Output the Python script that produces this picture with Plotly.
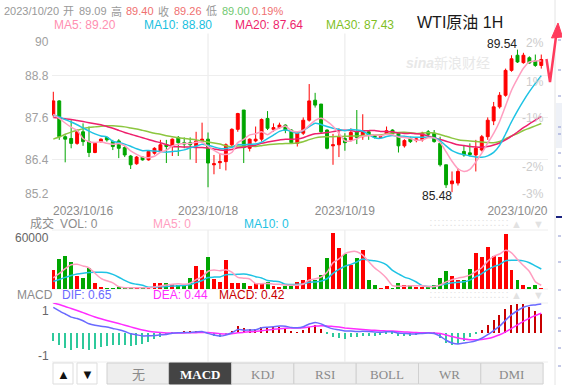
import numpy as np
import pandas as pd
import plotly.graph_objects as go

W, H = 562, 385
SANS = "Liberation Sans, Arial, Noto Sans CJK SC, sans-serif"
SERIF = "Liberation Serif, DejaVu Serif, Noto Sans CJK SC, serif"

# ---------------- data ----------------
opens = [87.68, 88.08, 87.06, 87.01, 86.87, 87.20, 86.92, 86.61, 86.92, 87.04,
         86.92, 86.94, 86.75, 86.51, 86.29, 86.48, 86.40, 86.59, 86.66, 86.83,
         86.78, 87.04, 86.89, 86.89, 86.80, 86.94, 86.99, 86.26, 86.32, 86.35,
         86.83, 87.27, 87.82, 86.73, 86.94, 86.99, 87.58, 87.27, 87.32, 87.39,
         87.25, 86.87, 87.16, 87.53, 88.10, 87.99, 87.25, 86.80, 86.83, 87.01,
         86.97, 87.20, 87.06, 87.20, 87.11, 87.04, 87.14, 87.25, 87.16, 86.80,
         87.01, 86.95, 86.97, 87.20, 87.16, 86.87, 86.26, 85.72, 85.74, 86.64,
         86.60, 86.54, 86.68, 87.06, 87.51, 87.91, 88.24, 88.95, 89.38, 89.17,
         89.31, 89.22, 89.09]
highs = [88.34, 88.10, 87.10, 87.53, 87.27, 87.44, 87.35, 86.89, 87.01, 87.06,
         86.97, 86.99, 86.80, 86.54, 86.51, 86.50, 86.66, 86.76, 86.97, 86.97,
         87.01, 87.08, 87.04, 87.04, 87.20, 87.46, 87.18, 86.54, 86.59, 86.87,
         87.30, 87.74, 87.82, 87.01, 87.35, 87.58, 87.79, 87.44, 87.46, 87.41,
         87.27, 87.20, 87.61, 88.56, 88.31, 87.99, 87.27, 87.14, 87.30, 87.16,
         87.30, 87.82, 87.70, 87.25, 87.13, 87.08, 87.35, 87.27, 87.18, 86.99,
         87.06, 87.04, 87.20, 87.25, 87.25, 87.06, 86.26, 86.07, 86.16, 86.82,
         86.87, 86.97, 87.11, 87.61, 88.05, 88.33, 89.00, 89.38, 89.54, 89.45,
         89.35, 89.40, 89.40]
lows = [87.63, 86.97, 86.33, 86.73, 86.83, 86.80, 86.48, 86.59, 86.89, 86.92,
        86.68, 86.45, 86.48, 86.14, 86.26, 86.38, 86.38, 86.55, 86.60, 86.31,
        86.51, 86.51, 86.73, 86.41, 86.31, 86.90, 85.62, 85.99, 86.14, 86.10,
        86.78, 87.20, 86.31, 86.64, 86.90, 86.92, 87.25, 87.20, 87.28, 87.16,
        86.87, 86.78, 87.11, 87.49, 87.89, 87.16, 86.70, 86.26, 86.48, 86.66,
        86.92, 86.85, 86.97, 86.97, 87.01, 87.02, 87.11, 87.12, 86.61, 86.75,
        86.88, 86.90, 86.92, 87.06, 86.89, 86.21, 85.60, 85.48, 85.67, 86.49,
        86.50, 86.07, 86.64, 86.97, 87.39, 87.86, 88.20, 88.91, 89.16, 89.14,
        89.14, 89.05, 89.00]
closes = [88.08, 87.06, 86.99, 86.87, 87.20, 86.92, 86.61, 86.87, 86.99, 86.97,
          86.78, 86.73, 86.54, 86.26, 86.48, 86.40, 86.64, 86.73, 86.83, 86.78,
          86.99, 86.89, 86.85, 86.83, 86.94, 86.99, 86.31, 86.29, 86.35, 86.83,
          87.27, 87.72, 86.75, 86.99, 86.99, 87.55, 87.30, 87.32, 87.39, 87.25,
          86.89, 87.16, 87.53, 88.08, 87.96, 87.20, 86.73, 86.83, 87.06, 86.89,
          87.18, 87.04, 87.20, 87.11, 87.04, 87.06, 87.23, 87.14, 86.80, 86.95,
          86.92, 87.00, 87.16, 87.13, 86.92, 86.26, 85.69, 85.80, 86.07, 86.54,
          86.55, 86.73, 87.06, 87.53, 87.91, 88.24, 88.95, 89.28, 89.19, 89.38,
          89.16, 89.09, 89.26]
volumes = [20000, 31000, 34500, 28300, 13800, 11400, 21700, 6200, 2000, 1000,
           1000, 2000, 1000, 1000, 1500, 1000, 1500, 6000, 6000, 6000,
           5000, 3800, 3800, 11400, 24100, 19600, 33000, 10300, 7200, 30000,
           6200, 6200, 6200, 2800, 6200, 6200, 7200, 2800, 1700, 2800,
           5000, 7200, 8900, 22700, 8900, 14100, 32000, 57900, 42400, 36200,
           24500, 32000, 40000, 8900, 3800, 500, 2800, 1000, 5900, 3800,
           3800, 1700, 1700, 1700, 3800, 11400, 18300, 13100, 9700, 9700,
           20700, 37200, 32800, 43800, 34500, 32800, 56900, 19300, 8900, 3800,
           2000, 3800, 1000]

# moving-average values visible at the left edge (history before the first bar)
ma5_lead = [87.70, 87.58, 87.45, 87.33]
ma10_lead = [87.68, 87.62, 87.55, 87.48, 87.40, 87.31, 87.22, 87.14, 87.08]
ma20_lead = [87.61, 87.59, 87.57, 87.55, 87.52, 87.49, 87.46, 87.43, 87.40, 87.35,
             87.30, 87.24, 87.18, 87.13, 87.08, 87.03, 86.98, 86.93, 86.89]
ma30_lead = [86.99, 87.05, 87.13, 87.19, 87.24, 87.29, 87.32, 87.34, 87.36, 87.37,
             87.37, 87.36, 87.34, 87.31, 87.28, 87.24, 87.20, 87.16, 87.13, 87.09,
             87.06, 87.03, 87.01, 86.99, 86.97, 86.94, 86.91, 86.88, 86.85]
vol_ma5_lead = [11400, 16000, 21000, 25000]
vol_ma10_lead = [7900, 9800, 12000, 14000, 15500, 16400, 17000, 17200, 17200]
macd_seed = {"ema12": 87.50, "ema26": 86.93, "dea": 0.67}

date_labels = ["2023/10/16", "2023/10/18", "2023/10/19", "2023/10/20"]
date_index = [5, 26, 49, 78]
grid_index = [26, 49]
price_ticks = [90, 88.8, 87.6, 86.4, 85.2]
price_tick_text = ["90", "88.8", "87.6", "86.4", "85.2"]
pct_tick_text = ["2%", "1%", "-1%", "-2%", "-3%"]
vol_tick_text = "60000"
macd_tick_text = ["1", "-1"]
tab_labels = ["无", "MACD", "KDJ", "RSI", "BOLL", "WR", "DMI"]
tab_selected = 1

header_quote = [("2023/10/20", "#999999"), ("开", "#999999"), ("89.09", "#999999"),
                ("高", "#999999"), ("89.40", "#f07070"), ("收", "#999999"),
                ("89.26", "#f07070"), ("低", "#999999"), ("89.00", "#70c870"),
                ("0.19%", "#f07070")]
header_quote_x = [2, 61, 77, 109, 124, 156, 172, 204, 220, 250]
ma_header = [("MA5: 89.20", "#ff8fb1"), ("MA10: 88.80", "#19bfe0"),
             ("MA20: 87.64", "#ee1f6c"), ("MA30: 87.43", "#7fbf1f")]
ma_header_x = [52, 142, 233, 324]
title_text = "WTI原油 1H"

# ---------------- derived series ----------------
n = len(closes)
idx = np.arange(n)


def ma_with_lead(values, win, lead):
    s = pd.Series(values, dtype=float).rolling(win).mean().to_numpy()
    s[:len(lead)] = lead
    return s


ma5 = ma_with_lead(closes, 5, ma5_lead)
ma10 = ma_with_lead(closes, 10, ma10_lead)
ma20 = ma_with_lead(closes, 20, ma20_lead)
ma30 = ma_with_lead(closes, 30, ma30_lead)
vma5 = ma_with_lead(volumes, 5, vol_ma5_lead)
vma10 = ma_with_lead(volumes, 10, vol_ma10_lead)

c = np.array(closes, dtype=float)
e12 = np.empty(n); e26 = np.empty(n); dea = np.empty(n)
e12[0] = macd_seed["ema12"]; e26[0] = macd_seed["ema26"]
for t in range(1, n):
    e12[t] = e12[t - 1] + 2 / 13 * (c[t] - e12[t - 1])
    e26[t] = e26[t - 1] + 2 / 27 * (c[t] - e26[t - 1])
dif = e12 - e26
dea[0] = macd_seed["dea"]
for t in range(1, n):
    dea[t] = dea[t - 1] + 0.2 * (dif[t] - dea[t - 1])
hist = 2 * (dif - dea)

RED, GREEN = "#ff0000", "#00a600"
up = [cl >= op for op, cl in zip(opens, closes)]
vol_colors = [RED if u else GREEN for u in up]
hist_colors = ["#c80000" if h >= 0 else "#2ec99b" for h in hist]

# ---------------- geometry ----------------
X0, X1 = 52, 548
X_FIRST, STEP = 53.3, 5.951
xr = [(X0 - X_FIRST) / STEP, (X1 - X_FIRST) / STEP]


def py(v):
    return 1 - v / H


def px(v):
    return v / W


fig = go.Figure()
fig.add_trace(go.Candlestick(
    x=idx, open=opens, high=highs, low=lows, close=closes,
    increasing=dict(line=dict(color=RED, width=1), fillcolor=RED),
    decreasing=dict(line=dict(color=GREEN, width=1), fillcolor=GREEN),
    whiskerwidth=0, xaxis="x", yaxis="y", hoverinfo="skip"))
for s, col in [(ma30, "#8cc63f"), (ma20, "#ee1f6c"), (ma10, "#1ec3e4"), (ma5, "#ff9ec0")]:
    fig.add_trace(go.Scatter(x=idx, y=s, mode="lines", xaxis="x", yaxis="y",
                             line=dict(color=col, width=1.5, shape="spline", smoothing=0.6),
                             hoverinfo="skip"))

fig.add_trace(go.Bar(x=idx, y=volumes, marker=dict(color=vol_colors, line=dict(width=0)),
                     width=0.66, xaxis="x2", yaxis="y2", hoverinfo="skip"))
for s, col in [(vma10, "#1ec3e4"), (vma5, "#ff9ec0")]:
    fig.add_trace(go.Scatter(x=idx, y=s, mode="lines", xaxis="x2", yaxis="y2",
                             line=dict(color=col, width=1.5, shape="spline", smoothing=0.6),
                             hoverinfo="skip"))

fig.add_trace(go.Bar(x=idx, y=hist, marker=dict(color=hist_colors, line=dict(width=0)),
                     width=0.22, xaxis="x3", yaxis="y3", hoverinfo="skip"))
fig.add_trace(go.Scatter(x=idx, y=dea, mode="lines", xaxis="x3", yaxis="y3",
                         line=dict(color="#ff2cff", width=1.5, shape="spline", smoothing=0.6), hoverinfo="skip"))
fig.add_trace(go.Scatter(x=idx, y=dif, mode="lines", xaxis="x3", yaxis="y3",
                         line=dict(color="#6a6aff", width=1.5, shape="spline", smoothing=0.6), hoverinfo="skip"))

ax_common = dict(range=xr, domain=[px(X0), px(X1)], showgrid=False, zeroline=False,
                 showline=False, fixedrange=True)
fig.update_layout(
    width=W, height=H, margin=dict(l=0, r=0, t=0, b=0),
    paper_bgcolor="white", plot_bgcolor="white", showlegend=False, bargap=0,
    xaxis=dict(**ax_common, anchor="y", tickvals=date_index, ticktext=date_labels,
               ticks="", tickfont=dict(size=12, color="#8c8c8c", family=SANS),
               rangeslider=dict(visible=False)),
    yaxis=dict(domain=[py(202), py(33.5)], range=[85.2, 90], tickvals=price_ticks,
               showticklabels=False, showgrid=True, gridcolor="#eeeeee", gridwidth=1,
               zeroline=False, fixedrange=True),
    xaxis2=dict(**ax_common, anchor="y2", matches="x", showticklabels=False),
    yaxis2=dict(domain=[py(289), py(230)], range=[0, 61000], showticklabels=False,
                showgrid=False, zeroline=False, fixedrange=True),
    xaxis3=dict(**ax_common, anchor="y3", matches="x", showticklabels=False),
    yaxis3=dict(domain=[py(362), py(303)], range=[-0.67, 0.67], showticklabels=False,
                showgrid=False, zeroline=False, fixedrange=True),
)

shapes = []
for gi in grid_index:
    for yr in ["y domain", "y2 domain", "y3 domain"]:
        shapes.append(dict(type="line", xref="x", yref=yr, x0=gi, x1=gi, y0=0, y1=1,
                           line=dict(color="#e8e8e8", width=1), layer="below"))
for yy in [230, 289, 303, 362]:
    shapes.append(dict(type="line", xref="paper", yref="paper", x0=px(X0), x1=px(X1),
                       y0=py(yy), y1=py(yy), line=dict(color="#eeeeee", width=1), layer="below"))
# right side strip
shapes.append(dict(type="line", xref="paper", yref="paper", x0=px(555), x1=px(555), y0=0, y1=1,
                   line=dict(color="#e4e4e4", width=1)))
shapes.append(dict(type="rect", xref="paper", yref="paper", x0=px(556), x1=1, y0=py(148), y1=py(103),
                   fillcolor="#eef1f7", line=dict(width=0)))
shapes.append(dict(type="line", xref="paper", yref="paper", x0=px(556), x1=1, y0=py(217), y1=py(217),
                   line=dict(color="#1a2380", width=2)))
for yy in [40, 70, 96, 127, 134, 153, 166, 178, 236, 262, 290, 318, 331, 348, 366]:
    shapes.append(dict(type="line", xref="paper", yref="paper", x0=px(558), x1=px(561),
                       y0=py(yy), y1=py(yy), line=dict(color="#8a93cf", width=1)))
# red arrow
pts = [(546.5, 59), (550, 82), (556.5, 33)]
path = "M " + " L ".join(f"{px(a):.5f} {py(b):.5f}" for a, b in pts)
shapes.append(dict(type="path", xref="paper", yref="paper", path=path,
                   line=dict(color="#ff3b5c", width=2.5)))
head = [(558, 23), (551.5, 38), (562.5, 37)]
hpath = "M " + " L ".join(f"{px(a):.5f} {py(b):.5f}" for a, b in head) + " Z"
shapes.append(dict(type="path", xref="paper", yref="paper", path=hpath,
                   fillcolor="#ff3b5c", line=dict(color="#ff3b5c", width=1)))
# buttons
for x0b in [53, 77]:
    shapes.append(dict(type="rect", xref="paper", yref="paper", x0=px(x0b), x1=px(x0b + 20),
                       y0=py(384), y1=py(363), fillcolor="white", line=dict(color="#dddddd", width=1)))
TAB_X0, TAB_W = 107, 62.3
for k in range(len(tab_labels)):
    sel = k == tab_selected
    shapes.append(dict(type="rect", xref="paper", yref="paper",
                       x0=px(TAB_X0 + k * TAB_W), x1=px(TAB_X0 + (k + 1) * TAB_W),
                       y0=py(384), y1=py(363),
                       fillcolor="#444444" if sel else "#eeeeee",
                       line=dict(color="#444444" if sel else "#d0d0d0", width=1)))
fig.update_layout(shapes=shapes)


def ann(text, x, y, size=12, color="#999999", xanchor="left", yanchor="middle", family=SANS, **kw):
    return dict(text=text, x=px(x), y=py(y), xref="paper", yref="paper", showarrow=False,
                font=dict(size=size, color=color, family=family), xanchor=xanchor,
                yanchor=yanchor, **kw)


anns = []
for (t, col), xx in zip(header_quote, header_quote_x):
    anns.append(ann(t, xx, 11, size=11, color=col))
for (t, col), xx in zip(ma_header, ma_header_x):
    anns.append(ann(t, xx, 25, size=12, color=col))
anns.append(ann(title_text, 415, 22, size=16, color="#1a1a1a"))
anns.append(ann("<i><b>sina</b></i>新浪财经", 448, 63, size=14, color="#e8e8e8", xanchor="center"))

# left price labels follow the gridlines; right percent labels sit at their own heights
nt = len(price_ticks)
pct_label_y = [43, 82, 118, 167, 194]
for k, (p, t) in enumerate(zip(price_ticks, price_tick_text)):
    shift = -8.5 if k == 0 else (8 if k == nt - 1 else 0)
    anns.append(dict(text=t, x=px(51), y=p, xref="paper", yref="y", showarrow=False, yshift=shift,
                     xanchor="right", font=dict(size=12, color="#a0a0a0", family=SANS)))
for t, yy in zip(pct_tick_text, pct_label_y):
    anns.append(ann(t, 546, yy, size=12, color="#cccccc", xanchor="right"))

i_hi = int(np.argmax(highs)); i_lo = int(np.argmin(lows))
anns.append(dict(text=f"{highs[i_hi]:.2f}", x=i_hi, y=highs[i_hi], xref="x", yref="y",
                 showarrow=False, xanchor="right", yanchor="bottom", xshift=2, yshift=-3,
                 font=dict(size=12, color="#222222", family=SANS)))
anns.append(dict(text=f"{lows[i_lo]:.2f}", x=i_lo, y=lows[i_lo], xref="x", yref="y",
                 showarrow=False, xanchor="right", yanchor="top", xshift=2, yshift=5,
                 font=dict(size=12, color="#222222", family=SANS)))

# volume panel texts
VOL_ROW = 223.5
anns.append(ann("成交", 28, VOL_ROW, color="#8c8c8c"))
anns.append(ann("VOL: 0", 58, VOL_ROW, color="#8c8c8c"))
anns.append(ann("MA5: 0", 151, VOL_ROW, color="#ff9ec0"))
anns.append(ann("MA10: 0", 242, VOL_ROW, color="#1ec3e4"))
anns.append(ann(vol_tick_text, 51, 237.5, color="#666666", xanchor="right"))
# macd panel texts
anns.append(ann("MACD", 15, 295, color="#8c8c8c"))
anns.append(ann("DIF: 0.65", 60, 295, color="#6a6aff"))
anns.append(ann("DEA: 0.44", 151, 295, color="#ff2cff"))
anns.append(ann("MACD: 0.42", 217, 295, color="#c80000"))
anns.append(ann(macd_tick_text[0], 51, 311, color="#666666", xanchor="right"))
anns.append(ann(macd_tick_text[1], 51, 356, color="#666666", xanchor="right"))
for yy in [VOL_ROW, 295]:
    anns.append(ann("∷∷∷∷∷∷∷∷∷∷", 427, yy, size=8, color="#e0e0e0"))
    anns.append(ann("▲", 516, yy, size=11, color="#e2e2e2", xanchor="center"))
    anns.append(ann("▼", 538, yy, size=11, color="#e2e2e2", xanchor="center"))
# buttons text
anns.append(ann("▲", 63, 374, size=13, color="#111111", xanchor="center"))
anns.append(ann("▼", 87, 374, size=13, color="#111111", xanchor="center"))
for k, t in enumerate(tab_labels):
    sel = k == tab_selected
    anns.append(ann(f"<b>{t}</b>" if sel else t, TAB_X0 + (k + 0.5) * TAB_W, 374, size=13,
                    color="#ffffff" if sel else "#8a8a8a", xanchor="center", family=SERIF))
fig.update_layout(annotations=anns)

fig.write_html("out.html")
